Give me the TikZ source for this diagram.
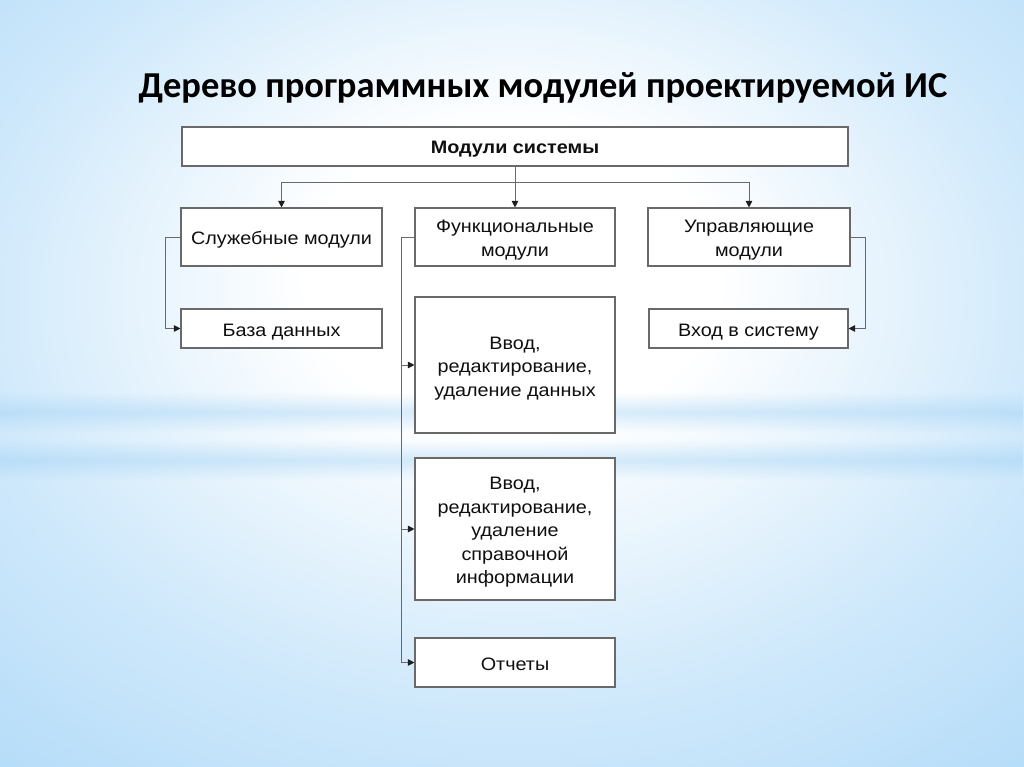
\documentclass[tikz,border=0pt]{standalone}
\usepackage{fontspec}
\setmainfont{Liberation Sans}
\newfontfamily\boxfont[FakeStretch=1.1]{Liberation Sans}
\newfontfamily\titlefont{Carlito}
\usetikzlibrary{arrows.meta,fadings}
\definecolor{bgblue}{RGB}{150,206,246}
\definecolor{bandblue}{RGB}{155,207,245}
\definecolor{linegray}{RGB}{105,105,105}
\definecolor{tipgray}{RGB}{30,30,30}
\definecolor{txt}{RGB}{15,15,15}
\newcommand\tfa{\rule{0pt}{19pt}}
\newcommand\tfb{\rule[-4pt]{0pt}{0pt}}
\pgfdeclareradialshading{bgshade}{\pgfpoint{0bp}{8bp}}{color(0bp)=(white); color(10bp)=(white); color(26bp)=(bgblue!45!white); color(48bp)=(bgblue!90!white); color(75bp)=(bgblue)}
\tikzfading[name=bandfade, top color=transparent!100, bottom color=transparent!100, middle color=transparent!0]
\tikzset{
  box/.style={draw=linegray, line width=1.1pt, fill=white, inner sep=2pt, align=center,
    text=txt, font=\boxfont\fontsize{18}{23.5}\selectfont},
  arr/.style={draw=linegray, line width=1pt, -{Triangle[length=6.5pt,width=6.5pt,color=tipgray]}},
  ln/.style={draw=linegray, line width=1pt},
  band/.style={fill=bandblue, path fading=bandfade, opacity=0.4}
}
\begin{document}
\begin{tikzpicture}[x=1pt,y=-1pt]
\useasboundingbox (0,0) rectangle (1024,767);
\shade[shading=bgshade] (0,0) rectangle (1024,767);
\path[band] (0,392) rectangle (1024,432);
\path[band] (0,440) rectangle (1024,480);

\node[font=\titlefont\bfseries\fontsize{36.5}{40}\selectfont, text=black] (title) at (543,88) {Дерево программных модулей проектируемой ИС};

\node[box, minimum width=666pt, minimum height=39pt, font=\boxfont\bfseries\fontsize{18}{23.5}\selectfont] (top) at (515,146.5) {\tfa Модули системы\tfb};

\node[box, minimum width=201pt, minimum height=58pt] (s1) at (281.5,237) {\tfa Служебные модули\tfb};
\node[box, minimum width=200pt, minimum height=58pt] (f1) at (515,237) {\tfa Функциональные\\модули\tfb};
\node[box, minimum width=202pt, minimum height=58pt] (u1) at (749,237) {\tfa Управляющие\\модули\tfb};

\node[box, minimum width=201pt, minimum height=39pt] (bd) at (281.5,328.5) {\tfa База данных\tfb};
\node[box, minimum width=199pt, minimum height=39pt] (vx) at (748.5,328.5) {\tfa Вход в систему\tfb};

\node[box, minimum width=200pt, minimum height=136pt] (f2) at (515,365) {\tfa Ввод,\\редактирование,\\удаление данных\tfb};
\node[box, minimum width=200pt, minimum height=142pt] (f3) at (515,529) {\tfa Ввод,\\редактирование,\\удаление\\справочной\\информации\tfb};
\node[box, minimum width=200pt, minimum height=49pt] (f4) at (515,662.5) {\tfa Отчеты\tfb};

\coordinate (bus) at (515,183);
\coordinate (fbus) at (401,237);

\draw[arr] (top.south) -- (f1.north);
\draw[arr] (bus) -| (s1.north);
\draw[arr] (bus) -| (u1.north);

\draw[arr] (s1.west) -- ++(-15,0) |- (bd.west);
\draw[arr] (u1.east) -- ++(15,0) |- (vx.east);

\draw[ln] (f1.west) -- (fbus);
\draw[arr] (fbus) |- (f2.west);
\draw[arr] (fbus) |- (f3.west);
\draw[arr] (fbus) |- (f4.west);
\end{tikzpicture}
\end{document}
